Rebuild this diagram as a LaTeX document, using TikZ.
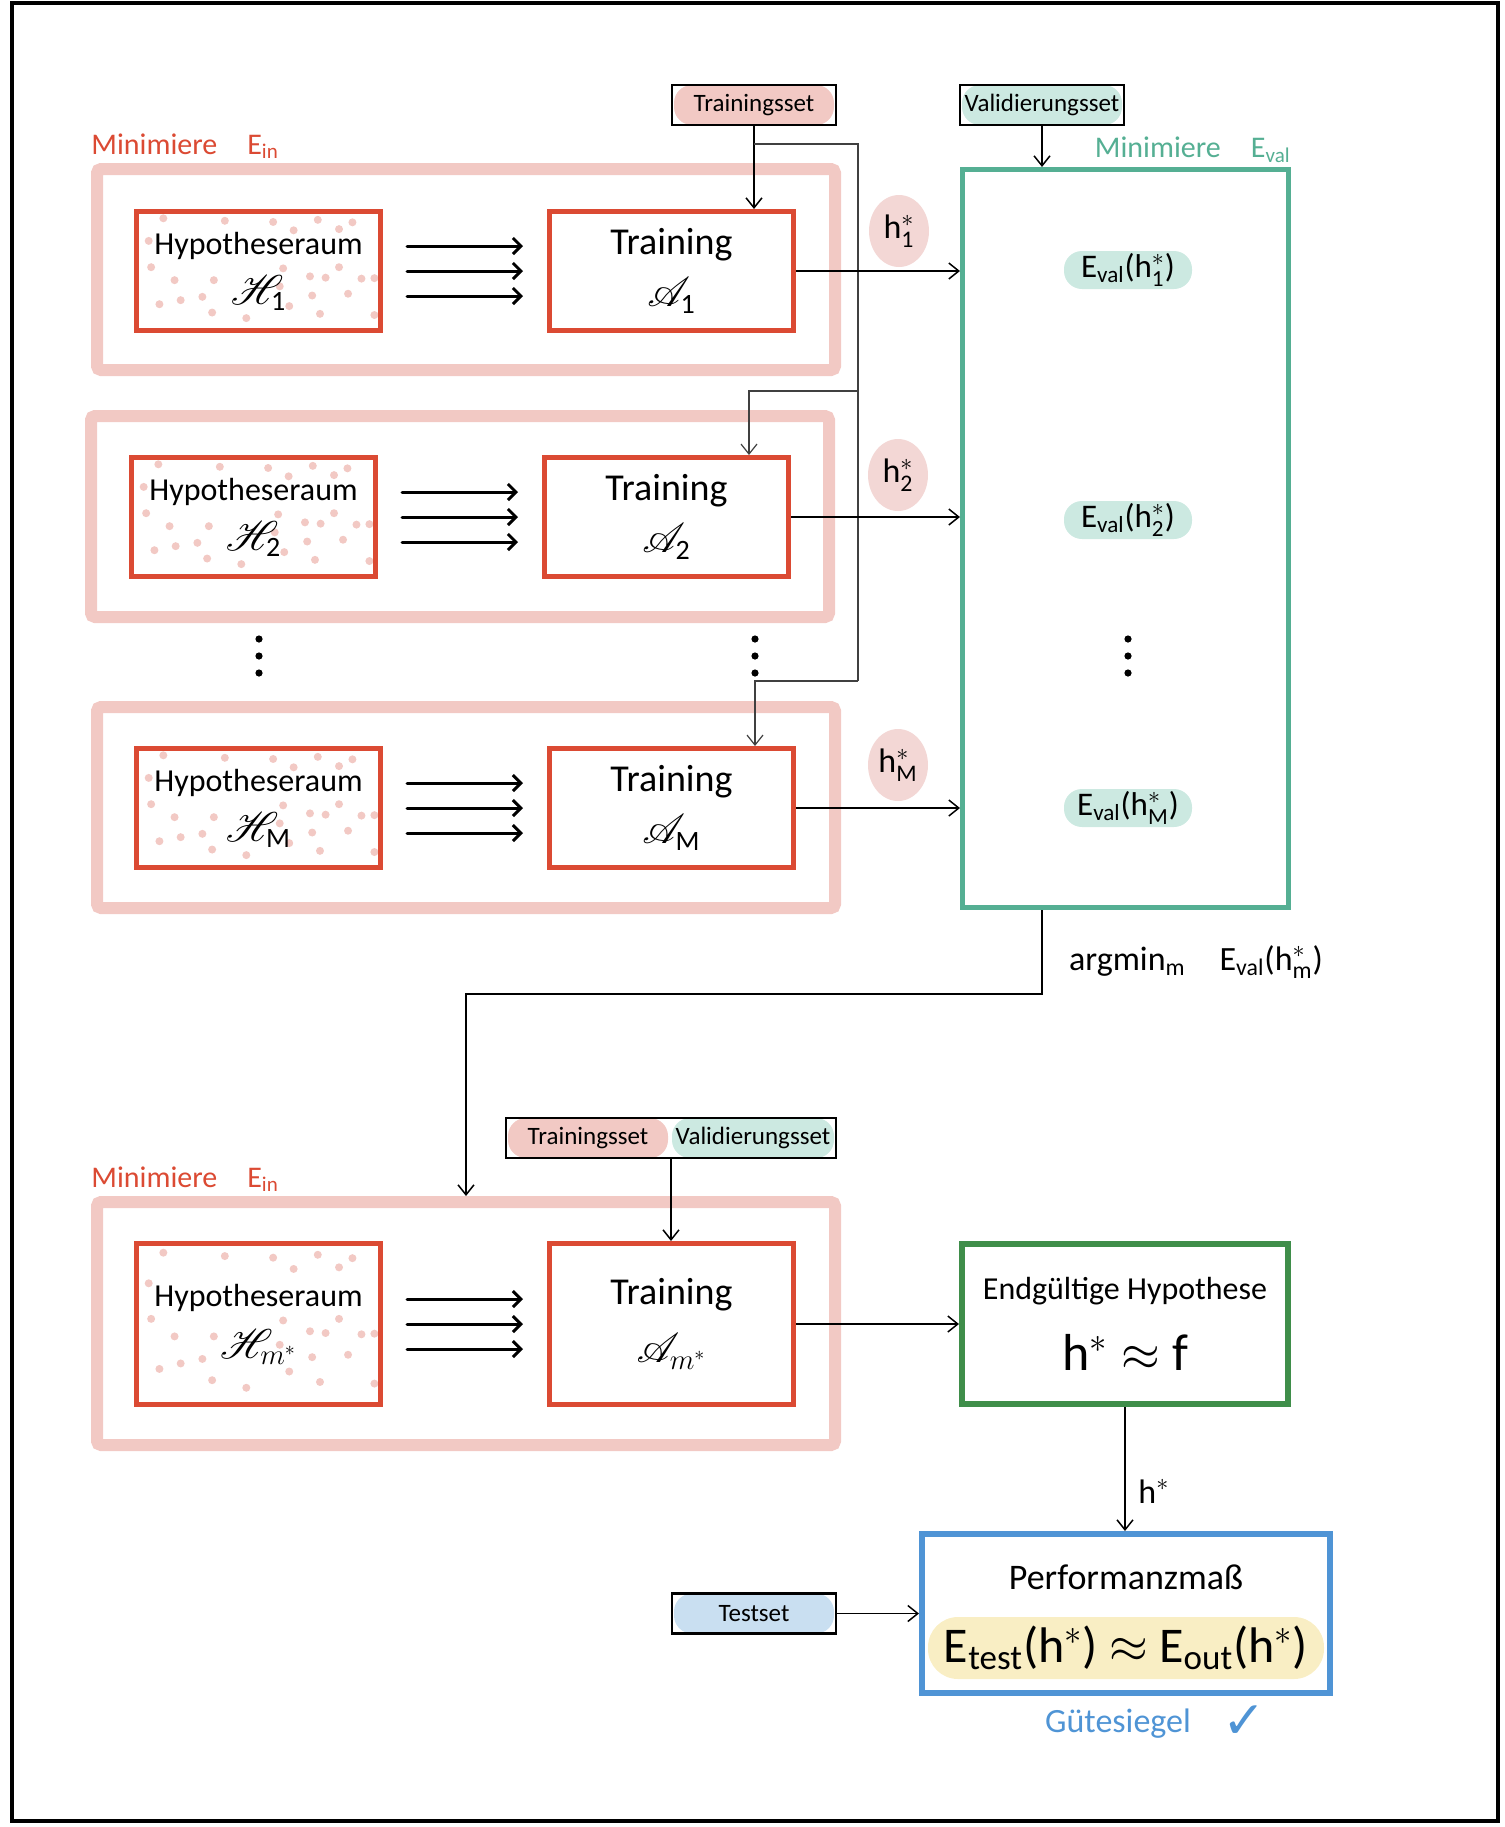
\documentclass[tikz,border=0pt]{standalone}
\usepackage{fontspec}
\setmainfont{Carlito}
\newfontfamily\symbolfont{DejaVu Sans}
\usepackage{amsmath}
\usepackage{mathrsfs}
\definecolor{PinkLight}{HTML}{F2C9C4}
\definecolor{PinkSoft}{HTML}{F3D7D5}
\definecolor{BoxRed}{HTML}{DB4A33}
\definecolor{ValTeal}{HTML}{55AF93}
\definecolor{TealLight}{HTML}{CCE9E1}
\definecolor{HypGreen}{HTML}{3F8E4A}
\definecolor{PerfBlue}{HTML}{4F94D5}
\definecolor{BlueLight}{HTML}{C9DFF1}
\definecolor{PillYellow}{HTML}{F9EEC4}
\usepackage{tikz}
\usetikzlibrary{shapes.geometric, arrows.meta, positioning, fit, calc}
\newcommand{\hst}[1]{h$^{*}_{\text{#1}}$}
\newcommand{\bigmath}[1]{{\fontsize{20}{22}\selectfont$#1$}}
\newcommand{\hypodots}{0.11/0.057, 0.362/0.078, 0.56/0.088, 0.743/0.07, 0.885/0.091, 0.644/0.158, 0.83/0.148, 0.05/0.247, 0.06/0.468, 0.156/0.577, 0.317/0.577, 0.601/0.478, 0.711/0.545, 0.775/0.556, 0.83/0.468, 0.922/0.564, 0.587/0.629, 0.867/0.691, 0.72/0.706, 0.626/0.795, 0.27/0.717, 0.181/0.745, 0.094/0.779, 0.31/0.849, 0.45/0.896, 0.752/0.86, 0.975/0.56, 0.975/0.87}
\tikzset{
  % Box styles
  minbox/.style={rectangle, rounded corners=2pt, draw=PinkLight, line width=6pt, minimum width=369pt, minimum height=#1},
  hypobox/.style={rectangle, draw=BoxRed, line width=2.5pt, minimum width=122pt, minimum height=#1, align=center, font=\fontsize{16}{20}\selectfont,
    path picture={\foreach \fx/\fy in \hypodots
      {\fill[PinkLight] ([xshift={\fx*122pt}, yshift={-\fy*#1}]path picture bounding box.north west) circle (2pt);}}},
  trainbox/.style={rectangle, draw=BoxRed, line width=2.5pt, minimum width=122pt, minimum height=#1, align=center, font=\fontsize{19}{22}\selectfont},
  setbox/.style={rectangle, draw=black, line width=1.2pt, minimum width=82pt, minimum height=20pt, inner sep=1pt, font=\fontsize{12.5}{14}\selectfont,
    path picture={\fill[#1, rounded corners=9pt] ([xshift=1pt]path picture bounding box.south west) rectangle ([xshift=-1pt]path picture bounding box.north east);}},
  valbox/.style={rectangle, draw=ValTeal, line width=2.5pt, minimum width=163pt, minimum height=369pt},
  finalbox/.style={rectangle, draw=HypGreen, line width=3pt, minimum width=163pt, minimum height=80pt, align=center, font=\fontsize{16}{20}\selectfont},
  perfbox/.style={rectangle, draw=PerfBlue, line width=3pt, minimum width=204pt, minimum height=79.5pt},
  % Label styles
  minlabel/.style={inner sep=0pt, font=\fontsize{15}{18}\selectfont},
  hpill/.style={ellipse, fill=PinkSoft, minimum width=30pt, minimum height=36pt, inner sep=0pt, font=\fontsize{17}{18}\selectfont},
  evalpill/.style={rectangle, rounded corners=9pt, fill=TealLight, minimum width=64pt, minimum height=19pt, inner sep=1pt, font=\fontsize{16.5}{18}\selectfont},
  yellowpill/.style={rectangle, rounded corners=15pt, fill=PillYellow, minimum width=198pt, minimum height=31pt, inner sep=1pt, font=\fontsize{25}{28}\selectfont},
  % Arrow styles
  arrow/.style={-{Straight Barb[length=5pt,width=8pt]}, line width=0.75pt},
  fatarrow/.style={-{Straight Barb[length=4pt,width=8pt]}, line width=1.5pt, line cap=round, shorten <=12pt, shorten >=12pt},
  feedline/.style={draw=black!75, line width=0.6pt}
}

\begin{document}
\begin{tikzpicture}[x=0.5pt, y=-0.5pt]
  \useasboundingbox (0,0) rectangle (1505,1827);
  \draw[line width=1.8pt] (12,3) rectangle (1498,1821);

  % Row 1
  \node[minbox=100.5pt] (mrow1) at (466,269.5) {};
  \node[minlabel, text=BoxRed, anchor=south west] (minin1) at ([yshift=2pt]mrow1.north west) {Minimiere\quad E\textsubscript{in}};
  \node[hypobox=59.5pt] (hyp1) at (258.5,271) {Hypotheseraum\\[5pt]\bigmath{\mathscr{H}_{\text{1}}}};
  \node[trainbox=59.5pt, right=82pt of hyp1] (train1) {Training\\[4pt]\bigmath{\mathscr{A}_{\text{1}}}};

  % Row 2
  \node[minbox=100.5pt] (mrow2) at (460,516.5) {};
  \node[hypobox=59.5pt] (hyp2) at (253.5,517) {Hypotheseraum\\[5pt]\bigmath{\mathscr{H}_{\text{2}}}};
  \node[trainbox=59.5pt, right=82pt of hyp2] (train2) {Training\\[4pt]\bigmath{\mathscr{A}_{\text{2}}}};

  % Row M
  \node[minbox=100.5pt] (mrowM) at (466,807.5) {};
  \node[hypobox=59.5pt] (hypM) at (258.5,808) {Hypotheseraum\\[5pt]\bigmath{\mathscr{H}_{\text{M}}}};
  \node[trainbox=59.5pt, right=82pt of hypM] (trainM) {Training\\[4pt]\bigmath{\mathscr{A}_{\text{M}}}};

  % Final training
  \node[minbox=121.5pt] (mrowb) at (466,1323.5) {};
  \node[minlabel, text=BoxRed, anchor=south west] (minin2) at ([yshift=2pt]mrowb.north west) {Minimiere\quad E\textsubscript{in}};
  \node[hypobox=80.5pt] (hypb) at (258.5,1324) {Hypotheseraum\\[6pt]\bigmath{\mathscr{H}_{m^*}}};
  \node[trainbox=80.5pt, right=82pt of hypb] (trainb) {Training\\[7pt]\bigmath{\mathscr{A}_{m^*}}};

  % Validation
  \node[valbox] (valbig) at (1125.5,538.5) {};
  \node[minlabel, text=ValTeal, anchor=south east] (minval) at ([yshift=2pt]valbig.north east) {Minimiere\quad E\textsubscript{val}};
  \node[setbox=PinkLight] (trainset) at (754,105) {Trainingsset};
  \node[setbox=TealLight] (valset) at (1042,105) {Validierungsset};
  \node[hpill] (hs1) at (899,231) {\hst{1}};
  \node[hpill] (hs2) at (898,475) {\hst{2}};
  \node[hpill] (hsM) at (898,765) {\hst{M}};
  \node[evalpill] (ev1) at (1128,270) {E\textsubscript{val}(\hst{1})};
  \node[evalpill] (ev2) at (1128,520) {E\textsubscript{val}(\hst{2})};
  \node[evalpill] (evM) at (1128,808) {E\textsubscript{val}(\hst{M})};

  % dots
  \foreach \x in {259,755,1128}
    \foreach \dy in {-17,0,17}
      \fill ({\x},{656+\dy}) circle (1.8pt);

  % Connections
  \foreach \r in {1,2,M,b}
    \foreach \dy in {12.5,0,-12.5}
      \draw[fatarrow] ([yshift=\dy]hyp\r.east) -- ([yshift=\dy]train\r.west);
  \draw[arrow] (trainset) -- (trainset |- train1.north);
  \draw[arrow] (valset) -- (valset |- valbig.north);
  \coordinate (tbranch) at (754,144);
  \coordinate (busA) at (858,144);
  \coordinate (busB) at (858,391);
  \coordinate (busC) at (858,681);
  \draw[feedline] (tbranch) -- (busA) -- (busC);
  \draw[arrow, feedline] (busB) -| ([xshift=41.25pt]train2.north);
  \draw[arrow, feedline] (busC) -| ([xshift=41.75pt]trainM.north);
  \draw[arrow] (train1) -- (train1 -| valbig.west);
  \draw[arrow] (train2) -- (train2 -| valbig.west);
  \draw[arrow] (trainM) -- (trainM -| valbig.west);

  % Sets for final training
  \node[setbox=PinkLight, draw=none, outer sep=0pt] (trainset2) at (588,1138) {Trainingsset};
  \node[setbox=TealLight, draw=none, outer sep=0pt, minimum width=83pt, right=0pt of trainset2] (valset2) {Validierungsset};
  \node[fit=(trainset2)(valset2), draw, line width=1.2pt, inner sep=0pt] (setpair) {};
  \draw[arrow] (setpair) -- (setpair |- trainb.north);
  \draw[arrow] (valset |- valbig.south) -- ++(0,84) -| (mrowb.north);
  \node[anchor=west, font=\fontsize{17}{20}\selectfont] (argminlbl) at (1062,962) {argmin\textsubscript{m}\quad E\textsubscript{val}(\hst{m})};

  % Result
  \node[finalbox] (final) at (1125,1324) {Endgültige Hypothese\\[14pt]{\fontsize{26}{28}\selectfont h$^*\approx$ f}};
  \draw[arrow] (trainb) -- (trainb -| final.west);
  \node[perfbox] (perf) at (1126,1613.5) {};
  \draw[arrow] (final) -- (final |- perf.north) node[pos=0.68, right=3pt, font=\fontsize{17}{20}\selectfont] (hlbl) {h$^*$};
  \node[font=\fontsize{18}{22}\selectfont] (perftitle) at (1126,1577) {Performanzmaß};
  \node[yellowpill] (perfpill) at (1126,1648) {E\textsubscript{test}(h$^*$) $\approx$ E\textsubscript{out}(h$^*$)};
  \node[setbox=BlueLight] (testset) at (754,1613.5) {Testset};
  \draw[arrow] (testset) -- (testset -| perf.west);
  \node[font=\fontsize{17}{20}\selectfont, text=PerfBlue] (seal) at (1118,1724) {Gütesiegel};
  \node[font=\symbolfont\fontsize{26}{26}\selectfont, text=PerfBlue] (check) at (1244,1722) {✓};
\end{tikzpicture}
\end{document}
